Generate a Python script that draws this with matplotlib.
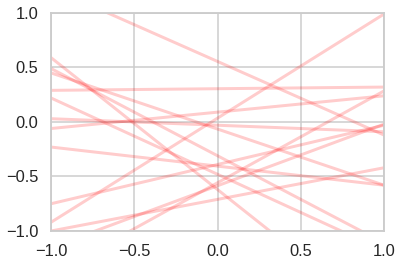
import matplotlib
matplotlib.use("Agg")
import matplotlib.pyplot as plt
import seaborn as sns

## straight lines drawn across [-1, 1], stored by their end heights
x_ends = [-1, 1]
y_left = [-0.92, 0.29, 0.59, 1.23, -0.06, -1.40, -0.75, -0.23, -1.00, -1.15, 0.45, 0.03, 0.49, 0.22]
y_right = [0.99, 0.32, -1.83, -0.12, 0.24, 0.285, -0.03, -0.58, -0.42, -0.02, -0.58, -0.09, -1.11, -1.18]

x_ticks = [-1.0, -0.5, 0.0, 0.5, 1.0]
y_ticks = [-1.0, -0.5, 0.0, 0.5, 1.0]

sns.set_theme(style="whitegrid", context="talk")
plt.rcParams['font.family'] = ['Liberation Sans', 'DejaVu Sans']

fig = plt.figure(figsize=(403 / 72, 264 / 72), dpi=72)
ax = fig.add_subplot(111)
fig.subplots_adjust(left=0.1266, right=0.953, top=0.951, bottom=0.125)

for yl, yr in zip(y_left, y_right):
  ax.plot(x_ends, [yl, yr], color="red", alpha=0.2, lw=3)

ax.set_xlim(-1, 1)
ax.set_ylim(-1, 1)
ax.set_xticks(x_ticks)
ax.set_yticks(y_ticks)

fig.savefig("out.png", dpi=72)
